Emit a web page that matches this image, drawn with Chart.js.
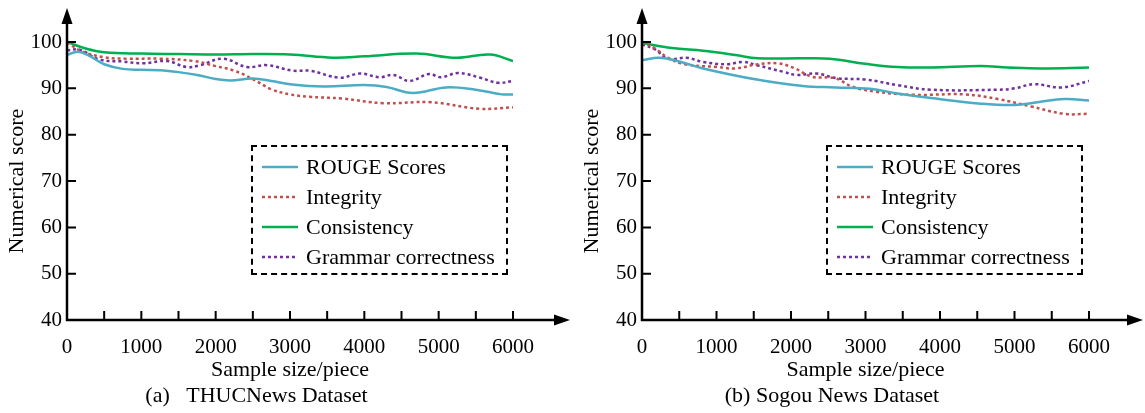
<!DOCTYPE html>
<html>
<head>
<meta charset="utf-8">
<script src="https://cdn.jsdelivr.net/npm/chart.js@4.4.0/dist/chart.umd.min.js"></script>
<style>
body{margin:0;background:#fff;width:1145px;height:413px;overflow:hidden;position:relative;font-family:"Liberation Serif","Times New Roman",serif}
.panel{position:absolute;top:0;height:413px}
.legend{position:absolute;left:251px;top:145px;width:257px;height:130px;border:2px dashed #000;box-sizing:border-box;padding-top:5px}
.row{display:flex;align-items:center;height:30px;font-size:22px;color:#000;white-space:nowrap}
.row svg{margin-left:9px;margin-right:8px}
</style>
</head>
<body>
<div class="panel" style="left:0;width:572px"><canvas id="chartA" width="572" height="413"></canvas><div class="legend" id="legendA"></div></div>
<div class="panel" style="left:575px;width:570px"><canvas id="chartB" width="570" height="413"></canvas><div class="legend" id="legendB"></div></div>
<script>
const seriesNames=["ROUGE Scores","Integrity","Consistency","Grammar correctness"];
const seriesColors=["#4bacc6","#c0504d","#00b050","#7030a0"];
const seriesDash=[[],[3,3],[],[3,3]];
const fonte='"Liberation Serif","Times New Roman",serif';

// (a) THUCNews
const thucRougeX=[0,150,300,500,750,1000,1250,1500,1750,2000,2200,2500,2750,3000,3450,4000,4300,4650,5100,5500,5850,6000];
const thucRougeY=[97.2,97.9,97.0,95.2,94.2,94.0,93.9,93.5,92.9,92.0,91.7,92.1,91.6,90.9,90.4,90.7,90.3,89.0,90.2,89.7,88.7,88.7];
const thucIntX=[0,200,500,800,1250,1700,2000,2250,2500,2750,3000,3250,3700,4250,4900,5550,6000];
const thucIntY=[99.9,98.0,96.7,96.4,96.4,95.9,94.8,93.8,92.0,89.8,88.7,88.2,87.8,86.8,87.0,85.6,85.9];
const thucConX=[0,250,500,1000,1500,2000,2500,3000,3580,4000,4700,5240,5690,6000];
const thucConY=[100,98.6,97.8,97.5,97.4,97.3,97.4,97.3,96.6,96.9,97.5,96.6,97.3,95.9];
const thucGramX=[0,175,440,750,1020,1345,1610,1790,2100,2420,2690,3040,3270,3670,3940,4210,4390,4610,4870,5030,5260,5560,5800,6000];
const thucGramY=[98.2,98.3,96.2,95.8,95.4,95.9,94.6,95.0,96.4,94.6,95.0,93.8,93.8,92.3,93.2,92.4,92.9,91.6,93.1,92.4,93.3,92.3,91.2,91.6];

// (b) Sogou News
const sogouRougeX=[0,240,500,820,1540,2160,2600,3060,3430,3880,4550,5000,5310,5670,6000];
const sogouRougeY=[96.1,96.6,95.8,94.3,91.9,90.5,90.2,89.9,88.9,87.9,86.7,86.4,87.0,87.7,87.4];
const sogouIntX=[0,175,350,577,1020,1248,1557,1825,2053,2281,2590,2818,3127,3660,4330,4775,5220,5670,6000];
const sogouIntY=[100,98.6,96.6,95.2,94.6,94.3,95.2,95.4,94.3,92.5,92.2,90.4,89.3,88.6,88.7,87.7,86.1,84.5,84.5];
const sogouConX=[0,400,820,1250,1550,2160,2520,3000,3430,3880,4550,4910,5360,6000];
const sogouConY=[99.8,98.7,98.1,97.2,96.5,96.5,96.4,95.3,94.6,94.5,94.8,94.5,94.3,94.5];
const sogouGramX=[0,175,350,600,820,1140,1355,1540,1890,2075,2345,2610,3000,3430,3880,4775,5000,5265,5630,6000];
const sogouGramY=[99.5,98.4,96.4,96.6,95.7,95.2,95.7,95.0,93.6,92.9,93.2,92.2,91.9,90.7,89.7,89.7,90.0,90.9,90.2,91.6];

const axesPlugin={id:"axes",afterDraw(chart){
const ctx=chart.ctx,x=chart.scales.x,y=chart.scales.y;
const ox=x.getPixelForValue(0),oy=y.getPixelForValue(40);
const tipX=chart.width-2,tipY=8;
ctx.save();
ctx.strokeStyle="#000";ctx.fillStyle="#000";ctx.setLineDash([]);
ctx.lineWidth=2.5;
ctx.beginPath();
ctx.moveTo(ox-1,oy);ctx.lineTo(tipX-12,oy);
ctx.moveTo(ox,oy+1.2);ctx.lineTo(ox,tipY+12);
ctx.stroke();
ctx.lineWidth=2;
ctx.beginPath();
x.ticks.forEach(t=>{if(t.value>0){let p=x.getPixelForValue(t.value);ctx.moveTo(p,oy);ctx.lineTo(p,oy-9);}});
y.ticks.forEach(t=>{if(t.value>40){let p=y.getPixelForValue(t.value);ctx.moveTo(ox,p);ctx.lineTo(ox+9,p);}});
ctx.stroke();
ctx.beginPath();ctx.moveTo(tipX,oy);ctx.lineTo(tipX-16,oy-5.5);ctx.lineTo(tipX-16,oy+5.5);ctx.closePath();ctx.fill();
ctx.beginPath();ctx.moveTo(ox,tipY);ctx.lineTo(ox-5.5,tipY+16);ctx.lineTo(ox+5.5,tipY+16);ctx.closePath();ctx.fill();
ctx.restore();
}};

function montarLegenda(id){
let box=document.getElementById(id);
seriesNames.forEach((n,i)=>{
let row=document.createElement("div");row.className="row";
let dash=seriesDash[i].length?' stroke-dasharray="3 3"':'';
row.innerHTML='<svg width="36" height="6"><line x1="0" y1="3" x2="36" y2="3" stroke="'+seriesColors[i]+'" stroke-width="2.5"'+dash+'/></svg><span>'+n+'</span>';
box.appendChild(row);
});
}

function montarGrafico(id,legendId,caption,xs,ys,padRight){
let datasets=seriesNames.map((n,i)=>({
label:n,
data:xs[i].map((v,j)=>({x:v,y:ys[i][j]})),
borderColor:seriesColors[i],
borderDash:seriesDash[i],
borderWidth:2.5,
pointRadius:0,
tension:0.4,
fill:false
}));
new Chart(document.getElementById(id),{
type:"line",
data:{datasets:datasets},
options:{
responsive:false,animation:false,
layout:{padding:{top:42,right:padRight,bottom:0,left:0}},
plugins:{
legend:{display:false},tooltip:{enabled:false},
title:{display:true,position:"bottom",text:caption,color:"#000",font:{family:fonte,size:22,weight:"normal",lineHeight:1.2},padding:{top:0,bottom:4}}
},
scales:{
x:{type:"linear",min:0,max:6000,grid:{display:false,drawTicks:false},border:{display:false},
ticks:{stepSize:500,autoSkip:false,maxRotation:0,padding:15,color:"#000",font:{family:fonte,size:21},callback:v=>v%1000===0?v:""},
title:{display:true,text:"Sample size/piece",color:"#000",font:{family:fonte,size:22,lineHeight:1.1},padding:{top:0,bottom:0}},
afterFit(s){s.height=62.5;}},
y:{min:40,max:100,grid:{display:false,drawTicks:false},border:{display:false},
ticks:{stepSize:10,padding:5,color:"#000",font:{family:fonte,size:21}},
title:{display:true,text:"Numerical score",color:"#000",font:{family:fonte,size:22,lineHeight:1.2},padding:{top:4,bottom:0}},
afterFit(s){s.width=67;}}
}
},
plugins:[axesPlugin]
});
montarLegenda(legendId);
}

montarGrafico("chartA","legendA","(a)   THUCNews Dataset",
[thucRougeX,thucIntX,thucConX,thucGramX],[thucRougeY,thucIntY,thucConY,thucGramY],59);
montarGrafico("chartB","legendB","(b) Sogou News Dataset",
[sogouRougeX,sogouIntX,sogouConX,sogouGramX],[sogouRougeY,sogouIntY,sogouConY,sogouGramY],56);
</script>
</body>
</html>
